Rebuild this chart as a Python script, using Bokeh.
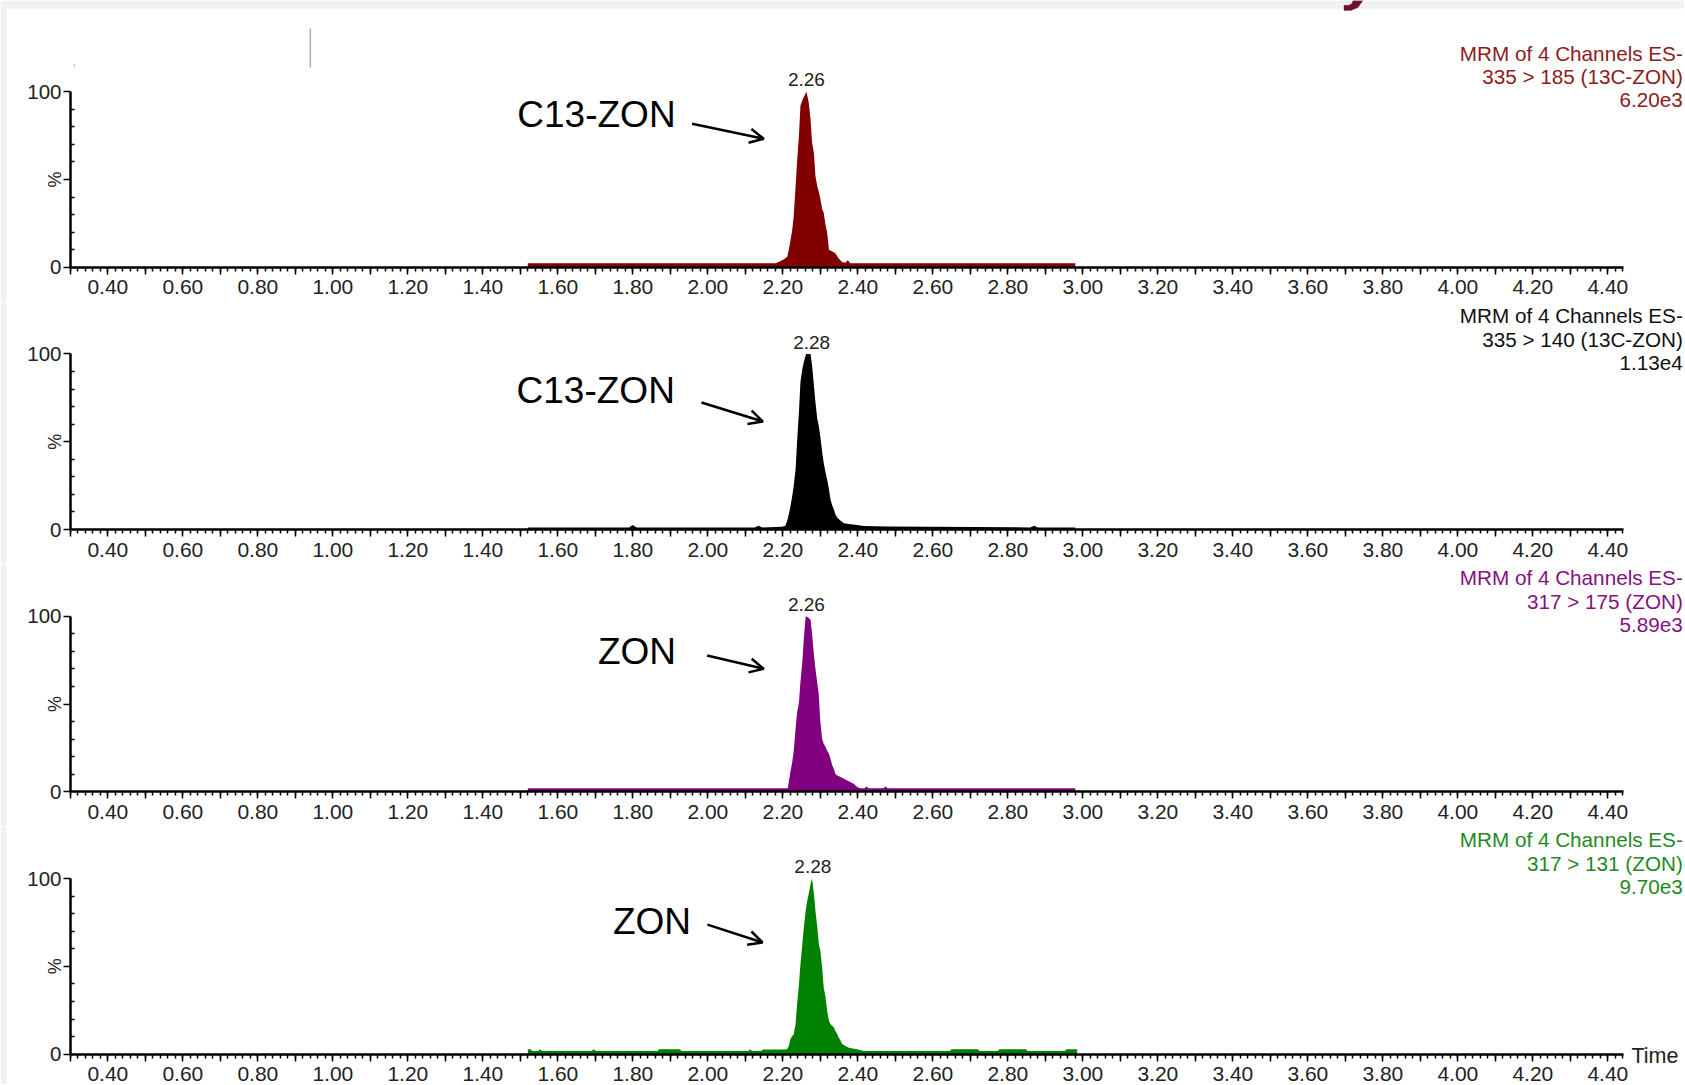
from bokeh.plotting import figure
from bokeh.models import Range1d, FixedTicker, Label, Arrow, OpenHead, BoxAnnotation, PolyAnnotation
from bokeh.layouts import column
from bokeh.embed import file_html
from bokeh.resources import INLINE

# ---------------- data ----------------
time_c1 = [1.52, 2.180, 2.189, 2.194, 2.203, 2.212, 2.216, 2.220, 2.225, 2.229, 2.234, 2.238, 2.243,
           2.247, 2.252, 2.256, 2.263, 2.269, 2.274, 2.278, 2.283, 2.287, 2.292, 2.296, 2.300, 2.305,
           2.309, 2.314, 2.318, 2.323, 2.332, 2.340, 2.349, 2.358, 2.367, 2.373, 2.380, 2.389, 2.98]
pct_c1 = [2.3, 2.3, 3, 3.5, 4.5, 6, 10, 15, 21, 29, 46, 60, 75,
          92, 95, 97, 100, 94, 84, 71, 65, 52, 46, 43, 39, 33,
          31, 24, 20, 10, 9, 8, 5, 3, 2.5, 4, 2.3, 2.3, 2.3]

time_c2 = [1.52, 1.79, 1.80, 1.81, 2.125, 2.135, 2.145, 2.198, 2.207, 2.213, 2.219, 2.225, 2.229,
           2.234, 2.238, 2.243, 2.247, 2.252, 2.256, 2.262, 2.274, 2.278, 2.283, 2.287, 2.292, 2.296,
           2.300, 2.305, 2.309, 2.314, 2.318, 2.323, 2.327, 2.332, 2.336, 2.340, 2.345, 2.354, 2.363,
           2.381, 2.398, 2.416, 2.478, 2.86, 2.87, 2.88, 2.98]
pct_c2 = [1.2, 1.2, 2.5, 1.2, 1.2, 2.2, 1.2, 1.5, 2.1, 6, 11.6, 19, 25,
          34, 50, 67, 84, 91.5, 95.4, 100, 100, 93.4, 82, 72.5, 63, 59,
          53, 44, 38, 32.5, 28.7, 23, 17.3, 13.5, 11.6, 8.7, 6.9, 5, 3.6,
          3, 2.5, 2, 1.7, 1.2, 2.2, 1.2, 1.2]

time_c3 = [1.52, 2.213, 2.216, 2.220, 2.225, 2.229, 2.234, 2.238, 2.243, 2.247, 2.252, 2.256, 2.261,
           2.267, 2.274, 2.278, 2.283, 2.287, 2.292, 2.296, 2.300, 2.305, 2.309, 2.314, 2.318, 2.323,
           2.327, 2.332, 2.336, 2.340, 2.345, 2.354, 2.363, 2.372, 2.381, 2.389, 2.398, 2.407,
           2.418, 2.423, 2.429, 2.468, 2.474, 2.480, 2.98]
pct_c3 = [2.0, 2.0, 5.5, 11.2, 16.9, 23, 36, 45, 51, 62.5, 74, 87.3, 100,
          99.4, 98, 90, 78, 70, 62, 55, 40, 30, 27.4, 25.5, 23.6, 21.7,
          18.8, 15, 13.1, 10.3, 9.3, 8.4, 7.4, 6.5, 5.5, 4.6, 2.7, 2.0,
          2.0, 3.0, 2.0, 2.0, 3.0, 2.0, 2.0]

time_c4 = [1.52, 1.527, 1.532, 1.548, 1.553, 1.558, 1.69, 1.696, 1.702, 1.866, 1.870, 1.925, 1.930,
           2.108, 2.113, 2.118, 2.143, 2.147, 2.208, 2.212, 2.216, 2.220, 2.225, 2.229, 2.234, 2.238,
           2.243, 2.247, 2.252, 2.256, 2.261, 2.265, 2.269, 2.274, 2.278, 2.283, 2.287, 2.292, 2.296,
           2.300, 2.305, 2.309, 2.314, 2.318, 2.323, 2.327, 2.336, 2.340, 2.345, 2.349, 2.354, 2.358,
           2.367, 2.376, 2.398, 2.416, 2.645, 2.650, 2.720, 2.725, 2.773, 2.778, 2.848, 2.853, 2.952,
           2.957, 2.985]
pct_c4 = [2.8, 2.8, 1.8, 1.8, 2.8, 1.8, 1.8, 2.8, 1.8, 1.8, 2.8, 2.8, 1.8,
          1.8, 2.8, 1.8, 1.8, 2.6, 2.6, 3.0, 4.6, 8.4, 10.3, 11.2, 17, 28.4,
          39.8, 51.2, 62.7, 72.2, 81.7, 87.4, 91.2, 97, 100, 91.2, 81.7, 72.2, 62.7,
          58.9, 49.3, 38, 32.4, 24.8, 19, 17.1, 15.2, 13.3, 11.4, 9.5, 7.6, 5.7,
          4.6, 3.6, 2.7, 1.8, 1.8, 2.8, 2.8, 1.8, 1.8, 2.8, 2.8, 1.8, 1.8,
          2.8, 2.8]

channel_times = [time_c1, time_c2, time_c3, time_c4]
channel_pcts = [pct_c1, pct_c2, pct_c3, pct_c4]

header_line1 = ["MRM of 4 Channels ES-"] * 4
header_line2 = ["335 > 185 (13C-ZON)", "335 > 140 (13C-ZON)", "317 > 175 (ZON)", "317 > 131 (ZON)"]
header_line3 = ["6.20e3", "1.13e4", "5.89e3", "9.70e3"]
peak_rt_labels = ["2.26", "2.28", "2.26", "2.28"]
peak_rt_values = [2.263, 2.277, 2.263, 2.280]
compound_labels = ["C13-ZON", "C13-ZON", "ZON", "ZON"]

x_major_ticks = [0.3, 0.4, 0.5, 0.6, 0.7, 0.8, 0.9, 1.0, 1.1, 1.2, 1.3, 1.4, 1.5, 1.6, 1.7, 1.8, 1.9,
                 2.0, 2.1, 2.2, 2.3, 2.4, 2.5, 2.6, 2.7, 2.8, 2.9, 3.0, 3.1, 3.2, 3.3, 3.4, 3.5, 3.6,
                 3.7, 3.8, 3.9, 4.0, 4.1, 4.2, 4.3, 4.4]
x_tick_labels = {0.4: "0.40", 0.6: "0.60", 0.8: "0.80", 1.0: "1.00", 1.2: "1.20", 1.4: "1.40",
                 1.6: "1.60", 1.8: "1.80", 2.0: "2.00", 2.2: "2.20", 2.4: "2.40", 2.6: "2.60",
                 2.8: "2.80", 3.0: "3.00", 3.2: "3.20", 3.4: "3.40", 3.6: "3.60", 3.8: "3.80",
                 4.0: "4.00", 4.2: "4.20", 4.4: "4.40"}
x_minor_ticks = [round(0.30 + 0.02 * i, 2) for i in range(208)]
y_major_ticks = [0, 50, 100]
y_minor_ticks = [10, 20, 30, 40, 60, 70, 80, 90]

# ---------------- style / layout ----------------
FILL = ["#800000", "#000000", "#800080", "#008000"]
HEAD = ["#8E1B22", "#111111", "#84117F", "#1E8A1E"]
FONT = "Liberation Sans"
WIDTH = 1684
HEIGHTS = [302, 262, 262, 258]
Y_RANGES = [(-20.11, 151.97), (-19.94, 129.34), (-19.77, 129.52), (-17.32, 129.69)]
X_RANGE = (0.1138, 4.6045)
X_BOUNDS = (0.3005, 4.4417)
TEXT_X = [1.492, 1.490, 1.707, 1.747]
TEXT_Y = [87.0, 79.2, 79.8, 75.6]
ARROWS = [(1.958, 81.7, 2.149, 73.2), (1.983, 72.4, 2.147, 61.5),
          (1.998, 77.7, 2.149, 70.1), (1.999, 73.8, 2.146, 63.6)]

figs = []
for k in range(4):
    p = figure(width=WIDTH, height=HEIGHTS[k], output_backend="svg", toolbar_location=None,
               x_range=Range1d(*X_RANGE), y_range=Range1d(*Y_RANGES[k]),
               min_border=0, min_border_left=0, min_border_right=0, min_border_top=0,
               min_border_bottom=0, background_fill_color="white",
               border_fill_color="white", outline_line_color=None)
    p.xgrid.visible = False
    p.ygrid.visible = False

    # light grey screenshot margins
    p.add_layout(BoxAnnotation(right=0.1298, fill_color="#f1f1f1", fill_alpha=1.0, line_color=None,
                               level="underlay"))
    if k == 0:
        p.add_layout(BoxAnnotation(bottom=147.4, fill_color="#f1f1f1", fill_alpha=1.0,
                                   line_color=None, level="underlay"))
        # cut-off fragment of a slide title glyph at the very top edge
        p.add_layout(PolyAnnotation(xs=[3.7204, 3.7471, 3.7338, 3.7151, 3.6964, 3.6964, 3.7098, 3.7178],
                                    ys=[152.0, 152.0, 148.0, 146.3, 146.3, 149.2, 149.2, 150.3],
                                    fill_color="#6E1230", fill_alpha=1.0, line_color="#6E1230",
                                    line_width=1))

    p.varea(x=channel_times[k], y1=0, y2=channel_pcts[k], fill_color=FILL[k], fill_alpha=1.0)

    xa = p.xaxis[0]
    xa.fixed_location = 0
    xa.bounds = X_BOUNDS
    xa.ticker = FixedTicker(ticks=x_major_ticks, minor_ticks=x_minor_ticks)
    xa.major_label_overrides = {t: x_tick_labels.get(t, "") for t in x_major_ticks}
    xa.axis_line_width = 2.5
    xa.axis_line_color = "black"
    xa.major_tick_in = 0
    xa.major_tick_out = 7
    xa.minor_tick_in = 0
    xa.minor_tick_out = 4
    xa.major_tick_line_width = 1.5
    xa.minor_tick_line_width = 1.5
    xa.major_tick_line_color = "black"
    xa.minor_tick_line_color = "black"
    xa.major_label_text_font = FONT
    xa.major_label_text_font_size = "21px"
    xa.major_label_text_color = "#222222"
    xa.major_label_standoff = 6

    ya = p.yaxis[0]
    ya.fixed_location = X_BOUNDS[0]
    ya.bounds = (0, 100)
    ya.ticker = FixedTicker(ticks=y_major_ticks, minor_ticks=y_minor_ticks)
    ya.major_label_overrides = {0: "0", 50: "", 100: "100"}
    ya.axis_line_width = 2.5
    ya.axis_line_color = "black"
    ya.major_tick_in = 0
    ya.major_tick_out = 7
    ya.minor_tick_in = 4
    ya.minor_tick_out = 0
    ya.major_tick_line_width = 1.5
    ya.minor_tick_line_width = 1.5
    ya.major_label_text_font = FONT
    ya.major_label_text_font_size = "20.5px"
    ya.major_label_text_color = "#222222"
    ya.major_label_standoff = 2

    # "%" label on the y axis
    p.add_layout(Label(x=0.259, y=50, text="%", angle=1.5708, text_align="center",
                       text_baseline="middle", text_font=FONT, text_font_size="18px",
                       text_color="#222222"))

    # channel header (right)
    for line, yy in zip([header_line1[k], header_line2[k], header_line3[k]], [122.0, 108.5, 95.0]):
        p.add_layout(Label(x=4.600, y=yy, text=line, text_align="right", text_baseline="middle",
                           text_font=FONT, text_font_size="20.7px", text_color=HEAD[k]))

    # peak retention time label
    p.add_layout(Label(x=peak_rt_values[k], y=106.8, text=peak_rt_labels[k], text_align="center",
                       text_baseline="middle", text_font=FONT, text_font_size="19px",
                       text_color="#222222"))

    # compound label + arrow
    p.add_layout(Label(x=TEXT_X[k], y=TEXT_Y[k], text=compound_labels[k], text_align="left",
                       text_baseline="middle", text_font=FONT, text_font_size="37px",
                       text_color="black"))
    xs, ys, xe, ye = ARROWS[k]
    p.add_layout(Arrow(end=OpenHead(size=14, line_width=2.5, line_color="black"),
                       x_start=xs, y_start=ys, x_end=xe, y_end=ye,
                       line_width=2.5, line_color="black"))

    if k == 0:
        p.add_layout(Arrow(end=None, x_start=0.940, y_start=136.0, x_end=0.940, y_end=113.8,
                           line_width=1.5, line_color="#b5b0a8"))
        p.add_layout(Arrow(end=None, x_start=0.3105, y_start=115.5, x_end=0.3105, y_end=114.3,
                           line_width=1.5, line_color="#b5b0a8"))
    if k == 3:
        p.add_layout(Label(x=4.463, y=-0.8, text="Time", text_align="left", text_baseline="middle",
                           text_font=FONT, text_font_size="21.5px", text_color="#222222"))
    figs.append(p)

layout = column(*figs)
open("out.html", "w").write(file_html(layout, INLINE))
